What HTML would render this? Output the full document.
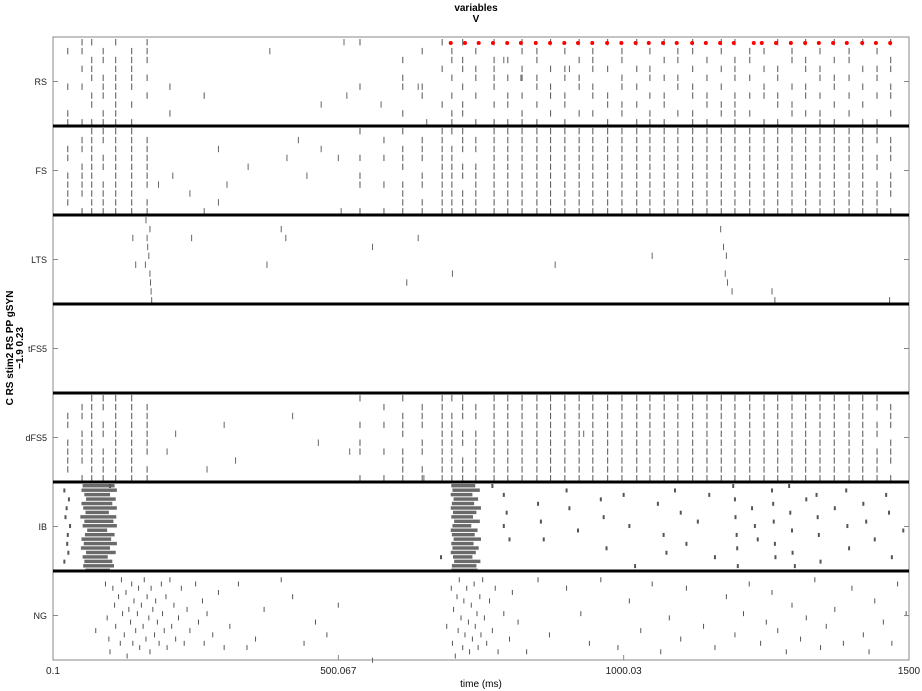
<!DOCTYPE html>
<html><head><meta charset="utf-8"><style>
html,body{margin:0;padding:0;background:#fff;}
svg{display:block;font-family:"Liberation Sans",Arial,sans-serif;}
</style></head><body>
<svg id="chart" width="922" height="691" viewBox="0 0 922 691" xmlns="http://www.w3.org/2000/svg">
<text x="476" y="11" font-size="10" font-weight="bold" text-anchor="middle">variables</text>
<text x="476" y="22" font-size="10" font-weight="bold" text-anchor="middle">V</text>
<g transform="translate(13,348) rotate(-90)">
<text x="0" y="0" font-size="10" font-weight="bold" text-anchor="middle">C RS stim2 RS PP gSYN</text>
<text x="0" y="10" font-size="10" font-weight="bold" text-anchor="middle">−1.9 0.23</text>
</g>
<text x="481" y="687" font-size="10" text-anchor="middle">time (ms)</text>
<g id="marks"></g>
<g id="frame"></g>
</svg>
<script>
// ---- data ----
const xTickValues = [0.1, 500.067, 1000.03, 1500];
const xTickLabels = ["0.1", "500.067", "1000.03", "1500"];
const panelLabels = ["RS", "FS", "LTS", "tFS5", "dFS5", "IB", "NG"];
const markerTimes = [697,722,746,771,796,820,846,871,896,920,945,971,996,1021,1044,1069,1093,1120,1144,1169,1193,1228,1242,1267,1293,1318,1342,1367,1391,1418,1442,1467];
const fsVolleyTimes = [26,51,68,88,110,138,165,538,580,613,647,682,699,718,741,773,797,822,848,872,897,922,946,972,997,1023,1046,1071,1095,1121,1146,1171,1195,1221,1246,1270,1295,1319,1344,1369,1395,1419,1444,1468];
const fsVolleyMasks = ["0011011110","0110111101","1111111111","1101101111","1111111111","1111111111","0111111011","1001011001","0101001001","1011101111","0111011011","1111111111","1011111111","1110110111","0110111111","1111111111","1111111111","1111111111","1111111111","1111111111","1111111111","1111111111","1111111111","1111111111","1111111111","1111111111","1111111111","1111111111","1111111111","1111111111","1111111111","1111111111","1111111111","1111111111","1111111111","1111111111","1111111111","1111111111","1111111111","1111111111","1111111111","1111111111","1101101111","0111011101"];
const fsSparse = [[210,5],[185,6],[290,2],[240,7],[342,4],[265,9],[305,6],[290,8],[430,1],[470,2],[445,5],[500,3],[505,9],[410,3]];
const rsVolleyTimes = [26,51,68,88,110,138,165,205,265,538,613,647,682,699,718,741,773,797,822,848,872,897,922,946,972,997,1023,1046,1071,1095,1121,1146,1171,1195,1221,1246,1270,1295,1319,1344,1369,1395,1419,1444,1468];
const rsVolleyMasks = ["0100010011","1101010001","1011101101","0110111011","1011111111","0111110101","1110101000","0000010010","0000001000","1000010000","0010110010","0100011000","1001000100","0110101011","1011010110","0101101001","1011110101","0010101101","1101101011","0110110101","1001011010","0101101101","1010110010","0111011010","1001001101","0110110110","1001010101","0101101011","1010101101","0110110010","1101011011","0010101101","1101010110","1011101111","0110101010","0101011001","1001101101","0110010110","1011011010","0101101011","1010110101","0110101010","1001010101","0101101001","1011011010"];
const rsSparse = [[380,1],[510,0],[470,7],[515,6],[790,2],[820,4],[575,7],[640,5],[655,9],[905,3]];
const ltsSparse = [[163,0],[170,1],[165,2],[166,3],[168,4],[162,5],[170,6],[171,7],[172,8],[173,9],[140,2],[145,5],[243,2],[400,1],[408,2],[375,5],[640,2],[700,6],[1170,1],[1175,3],[1180,4],[1178,6],[1182,7],[1190,8],[1260,8],[1265,9],[1466,9],[1050,4],[880,5],[560,3],[620,7]];
const dfsSparse = [[200,6],[215,4],[300,3],[270,8],[320,7],[465,5],[420,2],[520,6],[650,9],[930,4]];
const ibStartA = [52,50,55,58,50,53,57,48,55,52,60,56,50,54,49,58,52,55,53,57];
const ibEndA = [108,112,100,110,104,112,98,111,106,112,95,108,102,112,100,110,96,104,107,100];
const ibStartB = [698,700,697,702,699,697,701,698,703,700,697,699,702,698,700,697,701,703,699,698];
const ibEndB = [740,748,735,745,738,750,742,736,748,733,744,739,750,737,746,741,735,749,742,744];
const ibSparse = [[20,1],[28,3],[24,5],[22,7],[30,9],[26,11],[25,13],[27,15],[20,17],[100,0],[680,16],[770,0],[790,2],[795,6],[790,9],[800,12],[850,4],[855,8],[860,12],[900,1],[905,5],[920,10],[960,3],[965,7],[970,14],[1000,2],[1010,9],[1020,18],[1060,4],[1070,11],[1075,15],[1090,1],[1100,6],[1110,13],[1130,8],[1150,2],[1160,16],[1192,0],[1195,3],[1196,7],[1198,11],[1199,14],[1200,18],[1225,5],[1230,9],[1235,12],[1260,1],[1262,4],[1263,8],[1265,13],[1266,16],[1290,0],[1292,6],[1295,10],[1296,15],[1300,18],[1320,3],[1338,2],[1340,7],[1342,11],[1345,17],[1370,5],[1390,1],[1392,9],[1395,14],[1420,4],[1425,8],[1440,12],[1460,2],[1465,6],[1470,16],[1490,10]];
const ngSpikes = [[75,13],[92,2],[95,10],[98,15],[100,18],[105,3],[108,7],[110,12],[115,5],[118,16],[120,1],[122,9],[125,14],[128,4],[130,19],[133,8],[136,11],[138,2],[140,16],[142,6],[145,13],[148,9],[150,3],[152,17],[155,7],[158,12],[160,1],[163,15],[165,5],[168,10],[170,18],[172,3],[175,8],[178,14],[180,6],[183,11],[186,16],[190,2],[192,9],[195,13],[198,5],[200,17],[205,1],[208,12],[212,7],[215,15],[220,10],[225,3],[230,16],[235,8],[240,13],[250,2],[255,11],[262,6],[265,16],[270,9],[280,14],[290,4],[300,17],[310,12],[325,2],[340,17],[355,15],[370,8],[400,1],[420,5],[440,16],[460,11],[480,14],[500,7],[560,20],[690,12],[698,3],[700,16],[702,8],[705,19],[708,5],[710,13],[712,1],[715,10],[718,17],[720,6],[722,14],[725,3],[728,11],[730,18],[733,7],[735,15],[738,2],[740,12],[743,9],[745,17],[748,5],[750,14],[753,1],[756,10],[760,16],[765,6],[770,13],[775,3],[780,18],[790,9],[800,15],[805,4],[815,11],[830,18],[850,1],[870,14],[900,3],[925,9],[940,16],[960,1],[990,17],[1010,6],[1030,13],[1050,2],[1065,18],[1080,10],[1100,15],[1110,3],[1140,12],[1160,17],[1180,5],[1195,14],[1210,9],[1220,2],[1240,16],[1250,11],[1260,4],[1270,13],[1285,18],[1295,7],[1310,15],[1320,10],[1335,1],[1345,17],[1355,12],[1370,8],[1385,16],[1400,3],[1420,14],[1430,18],[1440,6],[1455,11],[1470,16],[1480,2],[1495,9]];
// ---- layout ----
const X0=53, X1=909, T0=0.1, T1=1500;
const panelTop=37, panelH=89;
const NS="http://www.w3.org/2000/svg";
function xs(t){return X0+(t-T0)/(T1-T0)*(X1-X0);}
function py(i){return panelTop+i*panelH;}
const marks=document.getElementById('marks');
const frame=document.getElementById('frame');
function mk(tag,attrs,parent){const e=document.createElementNS(NS,tag);for(const k in attrs)e.setAttribute(k,attrs[k]);parent.appendChild(e);return e;}
function tick(panel,rows,row,t,color,w,h){
  const sp=panelH/rows;
  const y=py(panel)+2+row*sp;
  const e=mk('rect',{x:xs(t)-w/2,y:y,width:w,height:h||Math.max(3,sp-2.5),fill:color},marks);
  
  
}
[1,4].forEach(function(p){
  fsVolleyTimes.forEach(function(t,i){
    const m=fsVolleyMasks[i];
    for(let r=0;r<10;r++) if(m[r]==='1') tick(p,10,r,t,'#555',1);
  });
});
fsSparse.forEach(function(s){tick(1,10,s[1],s[0],'#666',1);});
dfsSparse.forEach(function(s){tick(4,10,s[1],s[0],'#666',1);});
rsVolleyTimes.forEach(function(t,i){
  const m=rsVolleyMasks[i];
  for(let r=0;r<10;r++) if(m[r]==='1') tick(0,10,r,t,'#555',1);
});
rsSparse.forEach(function(s){tick(0,10,s[1],s[0],'#666',1);});
ltsSparse.forEach(function(s){tick(2,10,s[1],s[0],'#666',1);});
function burst(starts,ends){
  for(let r=0;r<20;r++){
    const sp=panelH/20;
    const y=py(5)+2+r*sp;
    const e=mk('rect',{x:xs(starts[r]),y:y,width:xs(ends[r])-xs(starts[r]),height:sp-1,fill:'#6a6a6a'},marks);
    
    
  }
}
burst(ibStartA,ibEndA);
burst(ibStartB,ibEndB);
ibSparse.forEach(function(s){tick(5,20,s[1],s[0],'#555',2,4);});
ngSpikes.forEach(function(s){tick(6,21,s[1],s[0],'#555',1,5);});
markerTimes.forEach(function(t){
  const e=mk('circle',{cx:xs(t),cy:43,r:2,fill:'#ff0000'},marks);
  
  
});
const box=mk('rect',{x:X0,y:panelTop,width:X1-X0,height:panelH*7,fill:'none',stroke:'#888','stroke-width':1},frame);


for(let i=1;i<7;i++){
  const l=mk('line',{x1:X0,x2:X1,y1:py(i),y2:py(i),stroke:'#000','stroke-width':3},frame);
  
  
}
panelLabels.forEach(function(lbl,i){
  const yc=py(i)+panelH/2;
  const t=mk('text',{x:X0-6,y:yc+3.5,'font-size':9,'text-anchor':'end',fill:'#222'},frame);
  t.textContent=lbl;
  
  
  mk('line',{x1:X0,x2:X0+5,y1:yc,y2:yc,stroke:'#888'},frame);
  mk('line',{x1:X1-5,x2:X1,y1:yc,y2:yc,stroke:'#888'},frame);
});
xTickValues.forEach(function(v,i){
  const x=xs(v), yb=panelTop+panelH*7;
  mk('line',{x1:x,x2:x,y1:yb,y2:yb-5,stroke:'#888'},frame);
  const t=mk('text',{x:x,y:yb+14,'font-size':10,'text-anchor':'middle',fill:'#222'},frame);
  t.textContent=xTickLabels[i];
  
  
});
</script>
</body></html>
